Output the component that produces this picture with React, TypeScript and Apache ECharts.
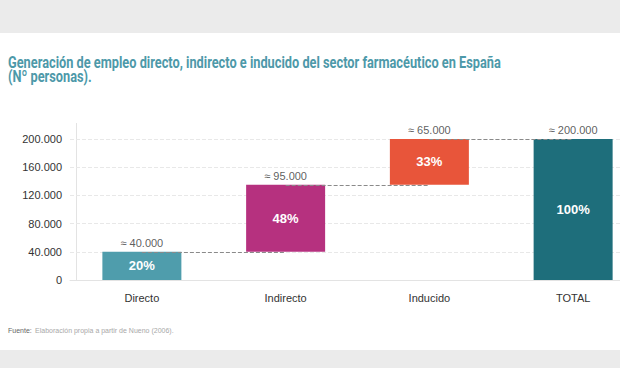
import React, { useEffect, useRef } from "react";
import * as echarts from "echarts";

const categories = ["Directo", "Indirecto", "Inducido", "TOTAL"];
const baseValues = [0, 40000, 135000, 0];
const barValues = [40000, 95000, 65000, 200000];
const topLabels = ["≈ 40.000", "≈ 95.000", "≈ 65.000", "≈ 200.000"];
const shareLabels = ["20%", "48%", "33%", "100%"];
const barColors = ["#4f9dac", "#b6317f", "#e8553a", "#1e6e7b"];
const yTicks = [0, 40000, 80000, 120000, 160000, 200000];

const titleLine1 = "Generación de empleo directo, indirecto e inducido del sector farmacéutico en España";
const titleLine2 = "(Nº personas).";

const fmt = (v: number) => String(v).replace(/\B(?=(\d{3})+(?!\d))/g, ".");

export default function App() {
  const ref = useRef<HTMLDivElement>(null);
  useEffect(() => {
    if (!ref.current) return;
    const chart = echarts.init(ref.current, null, { renderer: "svg" });
    const titleFont = "bold 17px 'Roboto', sans-serif";
    const c = document.createElement("canvas").getContext("2d")!;
    c.font = titleFont;
    const w1 = c.measureText(titleLine1).width;
    const sx = 493 / w1;
    const tops = baseValues.map((b, i) => b + barValues[i]);
    chart.setOption({
      animation: false,
      backgroundColor: "#ffffff",
      grid: { left: 70, width: 575, top: 139, height: 141, containLabel: false },
      xAxis: {
        type: "category",
        data: categories,
        axisLine: { show: true, lineStyle: { color: "#e3e3e3" } },
        axisTick: { show: false },
        axisLabel: { color: "#333", fontSize: 11, margin: 12, fontFamily: "Liberation Sans" },
      },
      yAxis: {
        type: "value",
        min: 0,
        max: 200000,
        interval: 40000,
        axisLine: { show: false },
        axisTick: { show: false },
        axisLabel: {
          color: "#333",
          fontSize: 11,
          margin: 8,
          fontFamily: "Liberation Sans",
          formatter: (v: number) => (yTicks.includes(v) ? fmt(v) : ""),
        },
        splitLine: { show: true, lineStyle: { color: "#e8e8e8", type: "dashed", width: 1 } },
      },
      graphic: [
        { type: "rect", shape: { x: 0, y: 0, width: 680, height: 33 }, style: { fill: "#ebebeb" }, silent: true },
        { type: "rect", shape: { x: 0, y: 350, width: 680, height: 18 }, style: { fill: "#ebebeb" }, silent: true },
        {
          type: "text",
          x: 8,
          y: 54,
          scaleX: sx,
          style: { text: titleLine1, font: titleFont, fill: "#4d99a9" },
        },
        {
          type: "text",
          x: 8,
          y: 68,
          scaleX: sx,
          style: { text: titleLine2, font: titleFont, fill: "#4d99a9" },
        },
        {
          type: "line",
          shape: { x1: 76.5, y1: 123, x2: 76.5, y2: 280 },
          style: { stroke: "#e3e3e3", lineWidth: 1 },
          silent: true,
        },
        {
          type: "text",
          x: 8,
          y: 324,
          style: {
            text: "{a|Fuente:} {b|Elaboración propia a partir de Nueno (2006).}",
            rich: {
              a: { fontSize: 7, fill: "#666", fontFamily: "Liberation Sans" },
              b: { fontSize: 7, fill: "#a8a8a8", fontFamily: "Liberation Sans" },
            },
          },
        },
      ],
      series: [
        {
          type: "line",
          data: [],
          z: 1,
          markLine: {
            silent: true,
            symbol: "none",
            label: { show: false },
            lineStyle: { color: "#8a8a8a", type: "dashed", width: 1 },
            data: [0, 1, 2].map((i) => [
              { coord: [categories[i], tops[i]] },
              { coord: [categories[i + 1], tops[i]] },
            ]),
          },
        },
        {
          type: "bar",
          stack: "w",
          z: 3,
          barWidth: 79,
          itemStyle: { color: "transparent" },
          data: baseValues,
          silent: true,
        },
        {
          type: "bar",
          stack: "w",
          z: 3,
          barWidth: 79,
          data: barValues.map((v, i) => ({ value: v, itemStyle: { color: barColors[i] } })),
          label: {
            show: true,
            position: "inside",
            color: "#fff",
            fontWeight: "bold",
            fontSize: 13,
            fontFamily: "Liberation Sans",
            formatter: (p: any) => shareLabels[p.dataIndex],
          },
        },
        {
          type: "scatter",
          z: 4,
          symbolSize: 1,
          itemStyle: { color: "transparent" },
          data: tops.map((t, i) => [categories[i], t]),
          label: {
            show: true,
            position: "top",
            distance: 3,
            color: "#333",
            fontSize: 11,
            fontFamily: "Liberation Sans",
            formatter: (p: any) => topLabels[p.dataIndex],
          },
        },
      ],
    });
    return () => chart.dispose();
  }, []);
  return (
    <div style={{ position: "fixed", left: 0, top: 0, width: 620, height: 368, overflow: "hidden", background: "#fff" }}>
      <div ref={ref} style={{ width: 680, height: 368 }} />
    </div>
  );
}
